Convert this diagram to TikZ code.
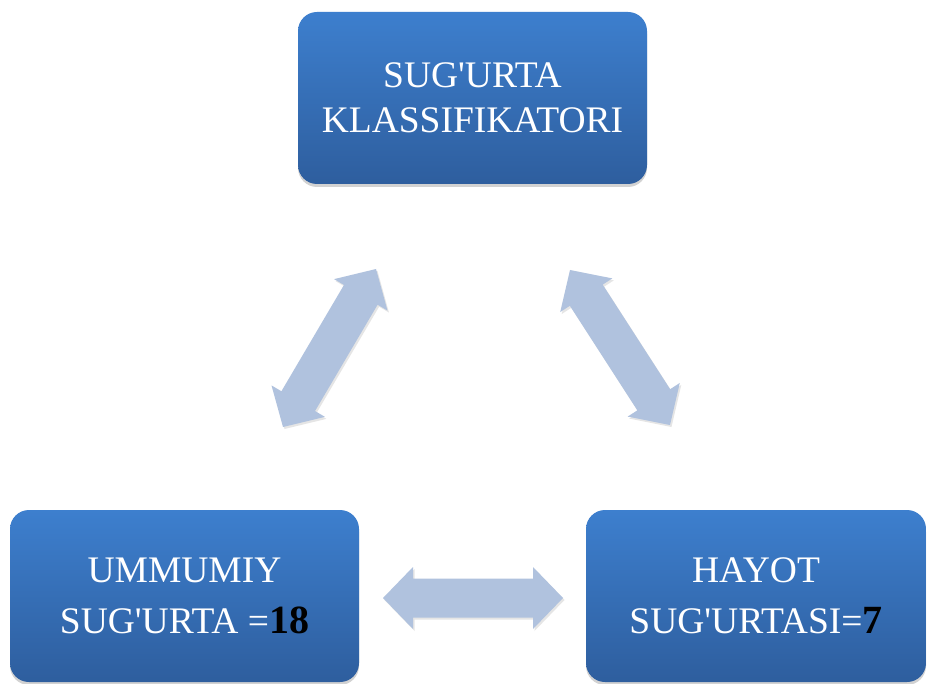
\documentclass[tikz,border=0pt]{standalone}
\usepackage{fontspec}
\setmainfont{Liberation Serif}
\usetikzlibrary{calc,shadows}
\definecolor{boxtop}{HTML}{3D7FCE}
\definecolor{boxbot}{HTML}{2E5E9E}
\definecolor{arrowc}{HTML}{B0C2DE}
\newcommand\aq{\textquotesingle}
\newcommand\bignum[1]{\textcolor{black}{\fontsize{40}{51}\selectfont\bfseries #1}}
\tikzset{
  catbox/.style={rectangle, rounded corners=19pt, minimum width=#1, minimum height=172pt,
    top color=boxtop, bottom color=boxbot, draw=none, text=white, align=center,
    font=\fontsize{37.5}{45}\selectfont, inner sep=0pt,
    drop shadow={opacity=0.35, shadow xshift=0pt, shadow yshift=-3pt}},
  lowtext/.style={font=\fontsize{37.5}{51}\selectfont},
  blockarr/.style={fill=arrowc, draw=none,
    drop shadow={opacity=0.2, shadow xshift=1.5pt, shadow yshift=-2pt}}
}
% #1 start tip, #2 end tip
\newcommand\dblblockarrow[2]{%
  \path[blockarr] let \p1=($(#2)-(#1)$), \n1={atan2(\y1,\x1)}, \n2={veclen(\x1,\y1)} in
    (#1)
    -- ($(#1)+(\n1:30pt)+(\n1+90:31pt)$)
    -- ($(#1)+(\n1:30pt)+(\n1+90:19.5pt)$)
    -- ($(#1)+(\n1:\n2-30pt)+(\n1+90:19.5pt)$)
    -- ($(#1)+(\n1:\n2-30pt)+(\n1+90:31pt)$)
    -- (#2)
    -- ($(#1)+(\n1:\n2-30pt)+(\n1-90:31pt)$)
    -- ($(#1)+(\n1:\n2-30pt)+(\n1-90:19.5pt)$)
    -- ($(#1)+(\n1:30pt)+(\n1-90:19.5pt)$)
    -- ($(#1)+(\n1:30pt)+(\n1-90:31pt)$)
    -- cycle;}
\begin{document}
\begin{tikzpicture}[x=1pt,y=-1pt]
\useasboundingbox (0,0) rectangle (928,684);
\fill[white] (0,0) rectangle (928,684);
\node[catbox=349pt] (top) at (472.5,98) {SUG\aq URTA\\KLASSIFIKATORI};
\node[catbox=349pt, lowtext] (left) at (184.5,596) {UMMUMIY\\SUG\aq URTA =\bignum{18}};
\node[catbox=340pt, lowtext] (right) at (756,596) {HAYOT\\SUG\aq URTASI=\bignum{7}};
\coordinate (l1) at (283,427);
\coordinate (l2) at (376,269);
\coordinate (r1) at (570,270);
\coordinate (r2) at (670,425);
\coordinate (h1) at (383,598);
\coordinate (h2) at (563,598);
\dblblockarrow{l1}{l2}
\dblblockarrow{r1}{r2}
\dblblockarrow{h1}{h2}
\end{tikzpicture}
\end{document}
